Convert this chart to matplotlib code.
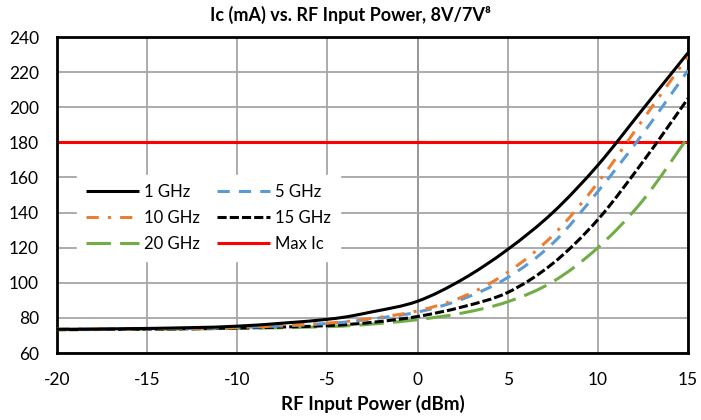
import matplotlib
matplotlib.use("Agg")
import matplotlib.pyplot as plt
from matplotlib.path import Path
from matplotlib.patches import PathPatch
from matplotlib.lines import Line2D
import numpy as np

plt.rcParams['font.family'] = ['Lato', 'DejaVu Sans']

# ---- data ----
power_dbm = [-20, -15, -10, -5, -2.5, 0, 2.5, 5, 7.5, 10, 12.5, 15]
ic_1ghz  = [73.5, 74.0, 75.3, 79.2, 83.5, 89.5, 102.0, 119.0, 140.0, 167.0, 199.0, 231.0]
ic_5ghz  = [73.5, 73.8, 74.5, 76.8, 79.5, 83.3, 90.8, 103.0, 122.5, 152.0, 185.0, 221.0]
ic_10ghz = [73.5, 73.8, 74.5, 77.0, 79.8, 84.0, 92.0, 106.0, 127.0, 157.0, 193.0, 229.0]
ic_15ghz = [73.3, 73.6, 74.2, 75.6, 77.5, 80.8, 86.3, 94.5, 111.0, 136.0, 169.0, 205.0]
ic_20ghz = [73.3, 73.5, 74.0, 75.0, 76.5, 79.0, 82.8, 89.2, 100.6, 120.0, 147.0, 183.0]
max_ic_x = [-20, 15]
max_ic_y = [180, 180]

series_labels = ["1 GHz", "5 GHz", "10 GHz", "15 GHz", "20 GHz", "Max Ic"]
x_ticks = [-20, -15, -10, -5, 0, 5, 10, 15]
y_ticks = [60, 80, 100, 120, 140, 160, 180, 200, 220, 240]

# ---- styles ----
LW = 2.2
styles = {
    "1 GHz":  dict(color="#000000", dash=None),
    "5 GHz":  dict(color="#5B9BD5", dash=(4, 3)),
    "10 GHz": dict(color="#ED7D31", dash=(4, 3, 1, 3)),
    "15 GHz": dict(color="#000000", dash=(3, 1)),
    "20 GHz": dict(color="#70AD47", dash=(8, 3)),
    "Max Ic": dict(color="#FF0000", dash=None),
}


def smooth_path(xs, ys):
    """Excel-like smoothed line: Catmull-Rom converted to cubic Bezier."""
    p = np.column_stack([xs, ys]).astype(float)
    n = len(p)
    verts = [p[0]]
    codes = [Path.MOVETO]
    for i in range(n - 1):
        p0 = p[i - 1] if i > 0 else p[i]
        p1 = p[i]
        p2 = p[i + 1]
        p3 = p[i + 2] if i + 2 < n else p[i + 1]
        c1 = p1 + (p2 - p0) / 6.0
        c2 = p2 - (p3 - p1) / 6.0
        verts += [c1, c2, p2]
        codes += [Path.CURVE4] * 3
    return Path(verts, codes)


def ls_of(dash):
    if dash is None:
        return "-"
    return (0, dash)


fig = plt.figure(figsize=(7.01, 4.20), dpi=100)
ax = fig.add_axes([0.0813, 0.1595, 0.9002, 0.7524])

data_map = {
    "1 GHz": ic_1ghz,
    "5 GHz": ic_5ghz,
    "10 GHz": ic_10ghz,
    "15 GHz": ic_15ghz,
    "20 GHz": ic_20ghz,
}

ax.set_xlim(-20, 15)
ax.set_ylim(60, 240)
ax.set_xticks(x_ticks)
ax.set_yticks(y_ticks)
ax.grid(True, color="#A6A6A6", linewidth=1.3, zorder=0)
ax.axvline(0, color="black", linewidth=1.3, zorder=1)

# Max Ic line
ax.plot(max_ic_x, max_ic_y, color=styles["Max Ic"]["color"], lw=LW, zorder=2,
        solid_capstyle="butt")

for name in ["20 GHz", "15 GHz", "5 GHz", "10 GHz", "1 GHz"]:
    st = styles[name]
    patch = PathPatch(smooth_path(power_dbm, data_map[name]), fill=False,
                      edgecolor=st["color"], linewidth=LW,
                      linestyle=ls_of(st["dash"]), capstyle="butt", zorder=3)
    ax.add_patch(patch)

for s in ax.spines.values():
    s.set_linewidth(2.0)
    s.set_color("black")

ax.tick_params(length=0, labelsize=12.5, colors="#000000")
ax.tick_params(axis="y", pad=13)
ax.tick_params(axis="x", pad=14)
ax.set_xticklabels([str(v) for v in x_ticks])

ax.set_xlabel("RF Input Power (dBm)", fontsize=13.5, fontweight="bold", labelpad=5)
fig.suptitle("Ic (mA) vs. RF Input Power, 8V/7V\u2078", fontsize=13,
             fontweight="bold", y=0.985, x=0.5)

# legend (row-major order as in reference)
handles = {}
for name in series_labels:
    st = styles[name]
    handles[name] = Line2D([0], [0], color=st["color"], lw=LW,
                           linestyle=ls_of(st["dash"]), solid_capstyle="butt",
                           dash_capstyle="butt")
order = ["1 GHz", "10 GHz", "20 GHz", "5 GHz", "15 GHz", "Max Ic"]
leg = ax.legend([handles[n] for n in order], order, ncol=2,
                loc="upper left", bbox_to_anchor=(0.0317, 0.563),
                borderaxespad=0.0,
                frameon=True, fancybox=False, edgecolor="white",
                facecolor="white", framealpha=1.0, fontsize=12,
                handlelength=3.2, handletextpad=0.3, columnspacing=1.0,
                labelspacing=0.6, borderpad=0.55)

fig.savefig("out.png", dpi=100)
